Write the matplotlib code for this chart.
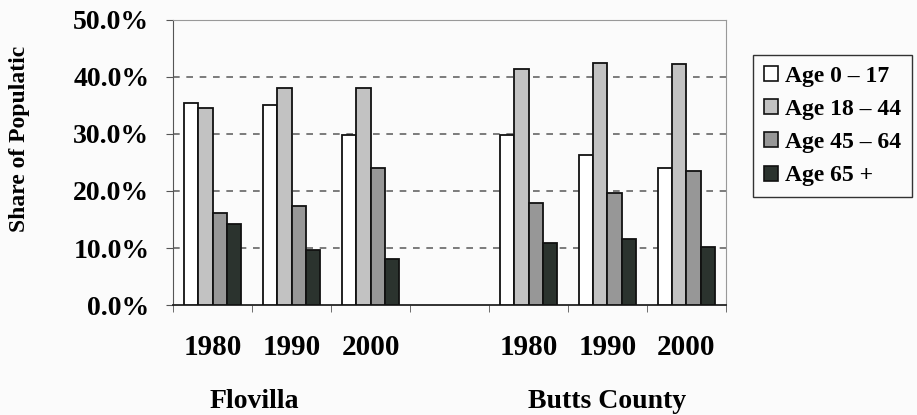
import numpy as np
import matplotlib
matplotlib.use("Agg")
import matplotlib.pyplot as plt
from matplotlib.patches import Patch

# categories (slot 3 is the empty gap between the two places)
years = ["1980", "1990", "2000", "", "1980", "1990", "2000"]
places = ["Flovilla", "Butts County"]

age_labels = ["Age 0 \u2013 17", "Age 18 \u2013 44", "Age 45 \u2013 64", "Age 65 +"]
age_0_17 = [35.4, 35.1, 29.9, np.nan, 29.9, 26.3, 24.0]
age_18_44 = [34.5, 38.1, 38.1, np.nan, 41.4, 42.5, 42.3]
age_45_64 = [16.1, 17.4, 24.0, np.nan, 17.9, 19.7, 23.5]
age_65_up = [14.2, 9.6, 8.1, np.nan, 10.8, 11.6, 10.2]

colors = ["#ffffff", "#c2c2c2", "#979797", "#2b332e"]
serif = ["Liberation Serif", "DejaVu Serif"]

plt.rcParams["font.family"] = serif
plt.rcParams["font.weight"] = "bold"

fig = plt.figure(figsize=(9.17, 4.15), dpi=100, facecolor="#fbfbfb")
ax = fig.add_axes([0.1887, 0.265, 0.603, 0.687])
ax.set_facecolor("#fbfbfb")

x = np.arange(len(years))
w = 0.18
series = [age_0_17, age_18_44, age_45_64, age_65_up]
for i, vals in enumerate(series):
    ax.bar(x + (i - 1.5) * w, vals, width=w, color=colors[i],
           edgecolor="#111111", linewidth=1.3, zorder=3)

ax.set_xlim(-0.5, len(years) - 0.5)
ax.set_ylim(0, 50)
ax.set_yticks(np.arange(0, 51, 10))
ax.set_yticklabels([f"{v:.1f}%" for v in np.arange(0, 51, 10)], fontsize=20)
ax.set_xticks(x)
ax.set_xticklabels(years, fontsize=21)
ax.set_xticks(np.arange(-0.5, len(years), 1), minor=True)
ax.tick_params(axis="x", which="major", length=0, pad=21)
ax.tick_params(axis="x", which="minor", length=5, color="#555555", direction="out")
ax.tick_params(axis="y", length=5, color="#555555", pad=12)

for v in [10, 20, 30, 40]:
    ax.axhline(v, color="#666666", linestyle=(0, (4, 4)), linewidth=1.2, zorder=1)

for s in ["top", "right"]:
    ax.spines[s].set_color("#999999")
ax.spines["left"].set_color("#555555")
ax.spines["bottom"].set_color("#222222")
ax.spines["bottom"].set_linewidth(1.3)

fig.text(0.021, 1 - 139 / 415, "Share of Populatic", rotation=90, fontsize=17,
         fontweight="bold", ha="center", va="center")

fig.text(254 / 917, 1 - 401 / 415, places[0], fontsize=20, fontweight="bold",
         ha="center", va="center")
fig.text(607 / 917, 1 - 401 / 415, places[1], fontsize=20, fontweight="bold",
         ha="center", va="center")

handles = [Patch(facecolor=c, edgecolor="#111111", linewidth=1.2) for c in colors]
leg = fig.legend(handles, age_labels, loc="upper left",
                 bbox_to_anchor=(753 / 917, 1 - 55 / 415), borderaxespad=0,
                 prop={"size": 17, "weight": "bold"}, handlelength=0.6,
                 handleheight=0.6, handletextpad=0.3, labelspacing=0.52,
                 borderpad=0.45, fancybox=False, framealpha=1)
leg.get_frame().set_edgecolor("#333333")
leg.get_frame().set_facecolor("#fbfbfb")
leg.get_frame().set_linewidth(1.0)

fig.savefig("out.png", dpi=100, facecolor=fig.get_facecolor())
